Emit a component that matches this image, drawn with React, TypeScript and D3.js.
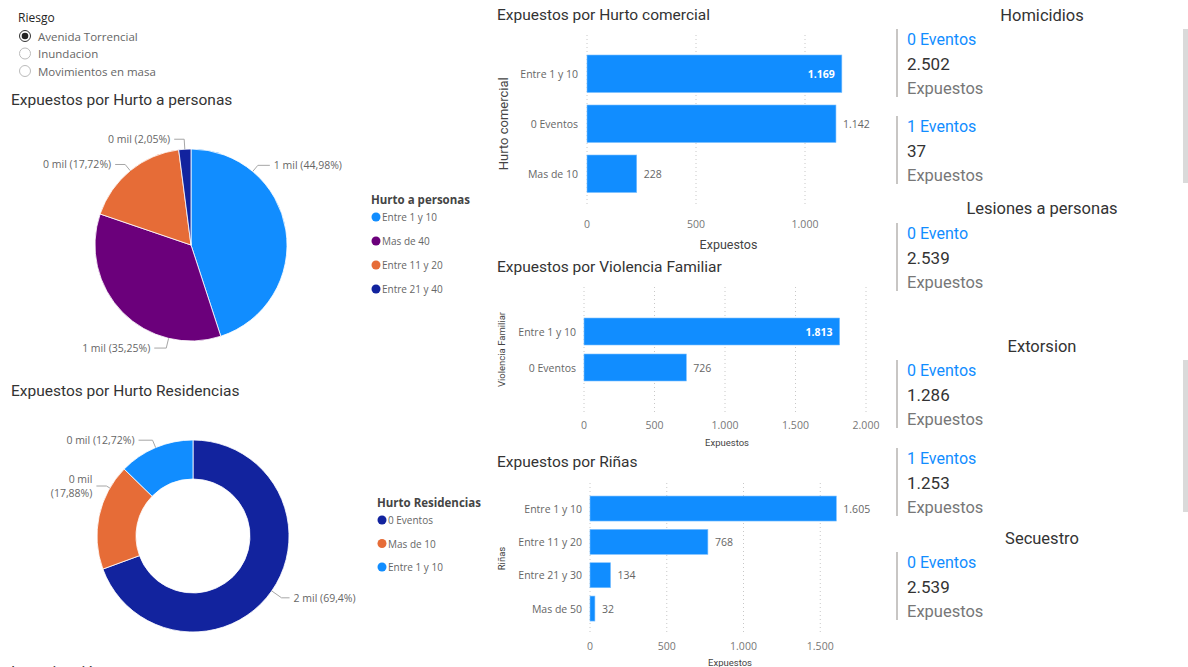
import React from 'react';
import * as d3 from 'd3';

// ---------- DATA ----------
const riesgoTitle = 'Riesgo';
const riesgoOptions = ['Avenida Torrencial', 'Inundacion', 'Movimientos en masa'];
const riesgoSelected = 0;

const hurtoPersonasCats = ['Entre 1 y 10', 'Mas de 40', 'Entre 11 y 20', 'Entre 21 y 40'];
const hurtoPersonasVals = [1142, 895, 450, 52];

const hurtoResidCats = ['0 Eventos', 'Mas de 10', 'Entre 1 y 10'];
const hurtoResidVals = [1762, 454, 323];

const comercialCats = ['Entre 1 y 10', '0 Eventos', 'Mas de 10'];
const comercialVals = [1169, 1142, 228];
const comercialTicks = [0, 500, 1000];

const violenciaCats = ['Entre 1 y 10', '0 Eventos'];
const violenciaVals = [1813, 726];
const violenciaTicks = [0, 500, 1000, 1500, 2000];

const rinasCats = ['Entre 1 y 10', 'Entre 11 y 20', 'Entre 21 y 30', 'Mas de 50'];
const rinasVals = [1605, 768, 134, 32];
const rinasTicks = [0, 500, 1000, 1500];

const homicidiosCats = ['0 Eventos', '1 Eventos'];
const homicidiosVals = [2502, 37];
const lesionesCats = ['0 Evento'];
const lesionesVals = [2539];
const extorsionCats = ['0 Eventos', '1 Eventos'];
const extorsionVals = [1286, 1253];
const secuestroCats = ['0 Eventos'];
const secuestroVals = [2539];

// ---------- STYLE ----------
const BLUE = '#118DFF';
const personasColors = ['#118DFF', '#6B007B', '#E66C37', '#12239E'];
const residColors = ['#12239E', '#E66C37', '#118DFF'];
const F_TITLE = "'DIN', Roboto, sans-serif";
const F_LABEL = "'Segoe UI', 'Open Sans', sans-serif";

const loc = d3.formatLocale({ decimal: ',', thousands: '.', grouping: [3], currency: ['$', ''] });
const fmtNum = loc.format(',d');
const fmtPct = (p: number) => d3.format('.2~f')(p).replace('.', ',');

type PieProps = {
  cx: number; cy: number; r: number; inner: number;
  cats: string[]; vals: number[]; colors: string[];
  labelAngles: (number | null)[]; ext: number[]; hlen: number[]; wrap: boolean[];
};

function Pie({ cx, cy, r, inner, vals, colors, labelAngles, ext, hlen, wrap }: PieProps) {
  const total = d3.sum(vals);
  const arcs = d3.pie<number>().sort(null).startAngle(0).endAngle(2 * Math.PI)(vals);
  const arcGen = d3.arc<d3.PieArcDatum<number>>().innerRadius(inner).outerRadius(r);
  return (
    <g>
      <g transform={`translate(${cx},${cy})`}>
        {arcs.map((a, i) => (
          <path key={i} d={arcGen(a) || ''} fill={colors[i]} stroke="#fff" strokeWidth={0.8} />
        ))}
      </g>
      {arcs.map((a, i) => {
        const ang = labelAngles[i] != null ? (labelAngles[i] as number) * Math.PI / 180 : (a.startAngle + a.endAngle) / 2;
        const sx = Math.sin(ang), sy = -Math.cos(ang);
        const p0 = [cx + r * sx, cy + r * sy];
        const p1 = [cx + (r + ext[i]) * sx, cy + (r + ext[i]) * sy];
        const side = sx >= 0 ? 1 : -1;
        const p2 = [p1[0] + side * hlen[i], p1[1]];
        const tx = p2[0] + side * 4;
        const v = vals[i];
        const mil = `${Math.round(v / 1000)} mil`;
        const pct = `(${fmtPct((v / total) * 100)}%)`;
        return (
          <g key={'l' + i}>
            <polyline points={`${p0[0]},${p0[1]} ${p1[0]},${p1[1]} ${p2[0]},${p2[1]}`} fill="none" stroke="#a6a6a6" strokeWidth={1} />
            {wrap[i] ? (
              <text x={tx} y={p2[1]} textAnchor={side > 0 ? 'start' : 'end'} fontFamily={F_LABEL} fontSize={10.5} fill="#666">
                <tspan x={tx} y={p2[1] - 7} dominantBaseline="central">{mil}</tspan>
                <tspan x={tx} y={p2[1] + 7} dominantBaseline="central">{pct}</tspan>
              </text>
            ) : (
              <text x={tx} y={p2[1]} dominantBaseline="central" textAnchor={side > 0 ? 'start' : 'end'} fontFamily={F_LABEL} fontSize={10.5} fill="#666">
                {mil} {pct}
              </text>
            )}
          </g>
        );
      })}
    </g>
  );
}

function Legend({ x, y, title, cats, colors, step }: { x: number; y: number; title: string; cats: string[]; colors: string[]; step: number }) {
  return (
    <g>
      <text x={x} y={y} dominantBaseline="central" fontFamily={F_LABEL} fontWeight={700} fontSize={11.5} fill="#444">{title}</text>
      {cats.map((c, i) => (
        <g key={i}>
          <circle cx={x + 5} cy={y + 18 + i * step} r={4.5} fill={colors[i]} />
          <text x={x + 11} y={y + 18 + i * step} dominantBaseline="central" fontFamily={F_LABEL} fontSize={10} fill="#666">{c}</text>
        </g>
      ))}
    </g>
  );
}

type BarProps = {
  title: string; titleY: number; yTitle: string; yTitleX: number; yTitleSize: number;
  cats: string[]; vals: number[]; ticks: number[];
  xDomain: [number, number]; xRange: [number, number];
  bandRange: [number, number]; gridY: [number, number];
  tickY: number; axisTitleY: number; axisTitleSize: number; plotRight: number; catX: number;
};

function BarChart(p: BarProps) {
  const x = d3.scaleLinear().domain(p.xDomain).range(p.xRange);
  const y = d3.scaleBand<string>().domain(p.cats).range(p.bandRange).paddingInner(0.25).paddingOuter(0.25);
  const yMid = (p.bandRange[0] + p.bandRange[1]) / 2;
  return (
    <g>
      <text x={497} y={p.titleY} dominantBaseline="central" fontFamily={F_TITLE} fontSize={15.5} fill="#333">{p.title}</text>
      <text transform={`translate(${p.yTitleX},${yMid}) rotate(-90)`} textAnchor="middle" dominantBaseline="central" fontFamily={F_TITLE} fontSize={p.yTitleSize} fill="#444">{p.yTitle}</text>
      {p.ticks.map((t) => (
        <g key={t}>
          <line x1={x(t)} x2={x(t)} y1={p.gridY[0]} y2={p.gridY[1]} stroke="#c8c8c8" strokeDasharray="1,3" />
          <text x={x(t)} y={p.tickY} textAnchor="middle" dominantBaseline="central" fontFamily={F_LABEL} fontSize={10.5} fill="#777">{fmtNum(t)}</text>
        </g>
      ))}
      <text x={(p.xRange[0] + p.plotRight) / 2} y={p.axisTitleY} textAnchor="middle" dominantBaseline="central" fontFamily={F_TITLE} fontSize={p.axisTitleSize} fill="#444">Expuestos</text>
      {p.cats.map((c, i) => {
        const v = p.vals[i];
        const by = y(c) as number;
        const bw = y.bandwidth();
        const lbl = fmtNum(v);
        const tw = lbl.length * 5.2;
        const inside = x(v) + 6 + tw > p.plotRight;
        return (
          <g key={c}>
            <text x={p.catX} y={by + bw / 2} textAnchor="end" dominantBaseline="central" fontFamily={F_LABEL} fontSize={10.5} fill="#666">{c}</text>
            <rect x={x(0)} y={by} width={x(v) - x(0)} height={bw} fill={BLUE} stroke="#7cc0ff" strokeWidth={0.6} />
            {inside ? (
              <text x={x(v) - 7} y={by + bw / 2} textAnchor="end" dominantBaseline="central" fontFamily={F_LABEL} fontWeight={700} fontSize={10.5} fill="#fff">{lbl}</text>
            ) : (
              <text x={x(v) + 7} y={by + bw / 2} textAnchor="start" dominantBaseline="central" fontFamily={F_LABEL} fontSize={10.5} fill="#666">{lbl}</text>
            )}
          </g>
        );
      })}
    </g>
  );
}

function CardGroup({ title, titleY, cats, vals, top, step, scroll }: { title: string; titleY: number; cats: string[]; vals: number[]; top: number; step: number; scroll?: [number, number] }) {
  return (
    <g>
      <text x={1042} y={titleY} textAnchor="middle" dominantBaseline="central" fontFamily={F_TITLE} fontSize={16.5} fill="#333">{title}</text>
      {cats.map((c, i) => {
        const y0 = top + i * step;
        return (
          <g key={c + i}>
            <rect x={896} y={y0} width={2} height={68} fill="#c8c6c4" />
            <text x={907} y={y0 + 10} dominantBaseline="central" fontFamily={F_TITLE} fontSize={16} fill={BLUE}>{c}</text>
            <text x={907} y={y0 + 35} dominantBaseline="central" fontFamily={F_TITLE} fontSize={17} fill="#333">{fmtNum(vals[i])}</text>
            <text x={907} y={y0 + 59} dominantBaseline="central" fontFamily={F_TITLE} fontSize={16.5} fill="#777">Expuestos</text>
          </g>
        );
      })}
      {scroll && <rect x={1183} y={scroll[0]} width={5} height={scroll[1] - scroll[0]} fill="#dadada" />}
    </g>
  );
}

export default function App() {
  return (
    <div style={{ position: 'absolute', left: 0, top: 0 }}>
      <svg width={1188} height={667} style={{ display: 'block', background: '#fff' }}>
        {/* Riesgo slicer */}
        <text x={18} y={17} dominantBaseline="central" fontFamily={F_LABEL} fontSize={12} fill="#252423">{riesgoTitle}</text>
        {riesgoOptions.map((o, i) => (
          <g key={o}>
            <circle cx={25} cy={36 + i * 17.5} r={5.5} fill="#fff" stroke={i === riesgoSelected ? '#333' : '#bbb'} strokeWidth={1} />
            {i === riesgoSelected && <circle cx={25} cy={36 + i * 17.5} r={3.3} fill="#222" />}
            <text x={38} y={36 + i * 17.5} dominantBaseline="central" fontFamily={F_LABEL} fontSize={11.5} fill="#666">{o}</text>
          </g>
        ))}

        {/* Pie: Hurto a personas */}
        <text x={11} y={100} dominantBaseline="central" fontFamily={F_TITLE} fontSize={15.5} fill="#333">Expuestos por Hurto a personas</text>
        <Pie cx={191} cy={245} r={96} inner={0} cats={hurtoPersonasCats} vals={hurtoPersonasVals} colors={personasColors}
          labelAngles={[40, 193.5, null, null]} ext={[8, 10, 8, 10]} hlen={[12, 12, 10, 10]} wrap={[false, false, false, false]} />
        <Legend x={371} y={199} title="Hurto a personas" cats={hurtoPersonasCats} colors={personasColors} step={24} />

        {/* Donut: Hurto Residencias */}
        <text x={11} y={391} dominantBaseline="central" fontFamily={F_TITLE} fontSize={15.5} fill="#333">Expuestos por Hurto Residencias</text>
        <Pie cx={193} cy={536} r={96} inner={57} cats={hurtoResidCats} vals={hurtoResidVals} colors={residColors}
          labelAngles={[null, 300, null]} ext={[12, 4, 8]} hlen={[8, 10, 14]} wrap={[false, true, false]} />
        <Legend x={377} y={502} title="Hurto Residencias" cats={hurtoResidCats} colors={residColors} step={23.5} />

        {/* Bar charts */}
        <BarChart title="Expuestos por Hurto comercial" titleY={15} yTitle="Hurto comercial" yTitleX={503} yTitleSize={13}
          cats={comercialCats} vals={comercialVals} ticks={comercialTicks}
          xDomain={[0, 1300]} xRange={[587, 870.4]} bandRange={[42.5, 205]} gridY={[35, 207]}
          tickY={224} axisTitleY={244} axisTitleSize={12.5} plotRight={870} catX={578} />
        <BarChart title="Expuestos por Violencia Familiar" titleY={267} yTitle="Violencia Familiar" yTitleX={501} yTitleSize={9.5}
          cats={violenciaCats} vals={violenciaVals} ticks={violenciaTicks}
          xDomain={[0, 2000]} xRange={[584, 866]} bandRange={[309, 390]} gridY={[287, 412]}
          tickY={425} axisTitleY={442} axisTitleSize={9.5} plotRight={870} catX={576} />
        <BarChart title="Expuestos por Riñas" titleY={462} yTitle="Riñas" yTitleX={501} yTitleSize={9.5}
          cats={rinasCats} vals={rinasVals} ticks={rinasTicks}
          xDomain={[0, 1800]} xRange={[590, 866.3]} bandRange={[487.7, 629.4]} gridY={[483, 632]}
          tickY={646} axisTitleY={662} axisTitleSize={9.5} plotRight={870} catX={582} />

        {/* Cards */}
        <CardGroup title="Homicidios" titleY={15} cats={homicidiosCats} vals={homicidiosVals} top={29} step={87} scroll={[29, 183]} />
        <CardGroup title="Lesiones a personas" titleY={208} cats={lesionesCats} vals={lesionesVals} top={223} step={87} />
        <CardGroup title="Extorsion" titleY={346} cats={extorsionCats} vals={extorsionVals} top={360} step={88} scroll={[360, 512]} />
        <CardGroup title="Secuestro" titleY={538} cats={secuestroCats} vals={secuestroVals} top={552} step={87} />

        {/* Cut-off next visual title (partly outside the frame, as in the reference) */}
        <text x={11} y={677} fontFamily={F_TITLE} fontSize={15.5} fill="#333">Investigación</text>
      </svg>
    </div>
  );
}
